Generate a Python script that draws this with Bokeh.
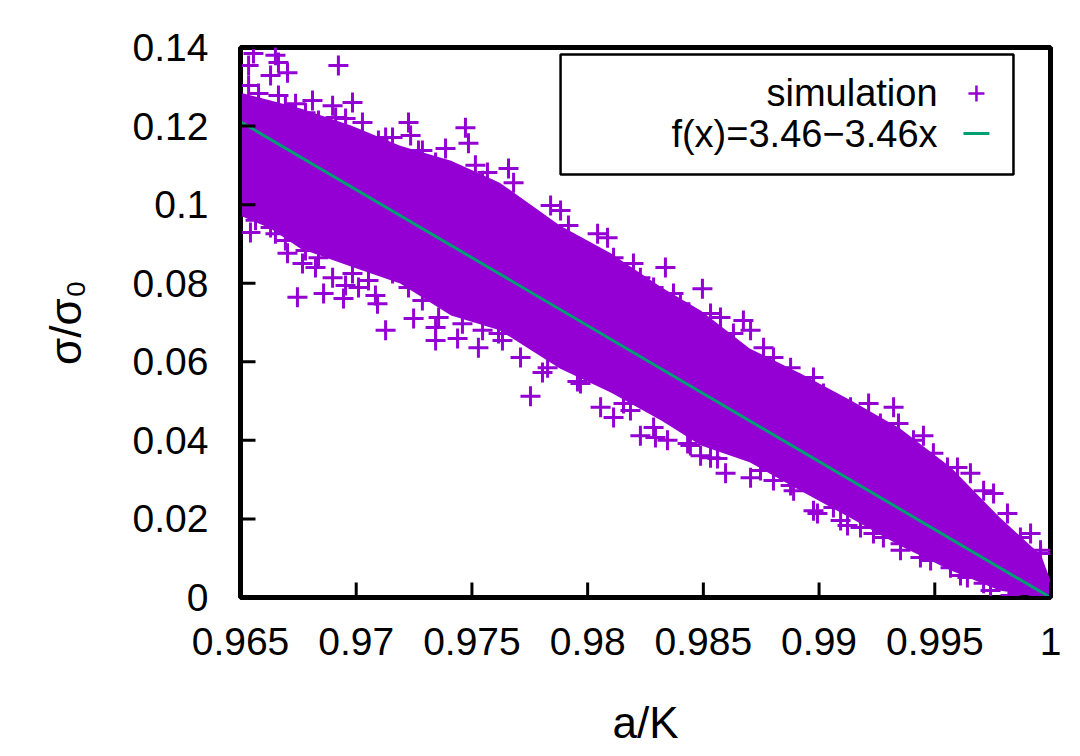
from bokeh.plotting import figure
from bokeh.models import Range1d, FixedTicker
from bokeh.core.properties import value
from bokeh.embed import file_html
from bokeh.resources import INLINE

# ---- data ----
x_ticks = [0.965, 0.97, 0.975, 0.98, 0.985, 0.99, 0.995, 1.0]
x_tick_labels = ["0.965", "0.97", "0.975", "0.98", "0.985", "0.99", "0.995", "1"]
y_ticks = [0.0, 0.02, 0.04, 0.06, 0.08, 0.10, 0.12, 0.14]
y_tick_labels = ["0", "0.02", "0.04", "0.06", "0.08", "0.1", "0.12", "0.14"]

# dense core of the simulation cloud (upper / lower envelope)
band_x = [0.965, 0.9663, 0.9676, 0.9698, 0.9719, 0.9741, 0.9762, 0.9788, 0.9810, 0.9832,
          0.9849, 0.9870, 0.9892, 0.9914, 0.9935, 0.9957, 0.9978, 0.9996, 1.0]
band_upper = [0.1285, 0.1265, 0.1245, 0.1201, 0.1150, 0.1112, 0.1056, 0.0947, 0.0876, 0.0789,
              0.0730, 0.0634, 0.0570, 0.0501, 0.0430, 0.0331, 0.0204, 0.0107, 0.0043]
band_lower = [0.0972, 0.0939, 0.0888, 0.0842, 0.0799, 0.0718, 0.0680, 0.0583, 0.0522, 0.0450,
              0.0387, 0.0344, 0.0272, 0.0201, 0.0132, 0.0069, 0.0018, 0.0, 0.0]

# individual simulation points on / outside the edge of the dense core
sim_x = [0.96556, 0.96651, 0.96664, 0.96535, 0.96630, 0.96703, 0.96923, 0.96535, 0.96578, 0.96664,
         0.96811, 0.96984, 0.96898, 0.96738, 0.97226, 0.97472, 0.97485, 0.97235, 0.97027, 0.96954,
         0.97127, 0.97286, 0.97386, 0.97515, 0.97567, 0.97658, 0.97680, 0.97840, 0.97883, 0.97917,
         0.98043, 0.98086, 0.98198, 0.98336, 0.98496, 0.98371, 0.98673, 0.98704, 0.98531, 0.98877,
         0.98976, 0.99214, 0.99322, 0.99343, 0.99451, 0.99555, 0.99654, 0.99711, 0.99870, 0.99957,
         0.96543, 0.96630, 0.96694, 0.96703, 0.96768, 0.96837, 0.96898, 0.96954, 0.97010, 0.96746,
         0.96859, 0.96945, 0.97083, 0.97092, 0.97127, 0.97248, 0.97343, 0.97343, 0.97438, 0.97528,
         0.97632, 0.97753, 0.97805, 0.97956, 0.98056, 0.98112, 0.98155, 0.98293, 0.98596, 0.98561,
         0.98993, 0.99123, 0.99235, 0.99278, 0.98747, 0.98877, 0.99093, 0.99352, 0.99482, 0.99611,
         0.99741, 0.99827, 0.99914, 0.99978, 0.98228, 0.98444, 0.98488,
         0.96578, 0.96694, 0.96781, 0.96837, 0.96911, 0.97096, 0.97157, 0.97269, 0.97343, 0.97416,
         0.97546, 0.97589,
         0.96565, 0.96651, 0.96781, 0.96824, 0.96984, 0.97053, 0.97157, 0.97226, 0.97286, 0.97356,
         0.97459, 0.97546, 0.97615,
         0.97624, 0.97753, 0.97827, 0.97969, 0.98112, 0.98228, 0.98285, 0.98401, 0.98574, 0.98630,
         0.98760,
         0.97710, 0.97827, 0.97969, 0.98185, 0.98285,
         0.98345, 0.98432, 0.98531, 0.98704, 0.98803, 0.98890, 0.98976, 0.99062, 0.99179, 0.99352,
         0.99438, 0.99568, 0.99641, 0.99711, 0.99857,
         0.98803, 0.99019, 0.99136, 0.99265, 0.99408, 0.99494, 0.99598, 0.99754, 0.99814, 0.99914,
         0.99957]
sim_y = [0.1385, 0.1380, 0.1362, 0.1354, 0.1329, 0.1336, 0.1354, 0.1303, 0.1283, 0.1278,
         0.1265, 0.1260, 0.1252, 0.1257, 0.1209, 0.1196, 0.1156, 0.1176, 0.1209, 0.1219,
         0.1171, 0.1138, 0.1143, 0.1100, 0.1082, 0.1092, 0.1056, 0.0998, 0.0985, 0.0947,
         0.0926, 0.0916, 0.0850, 0.0840, 0.0786, 0.0774, 0.0705, 0.0680, 0.0723, 0.0585,
         0.0560, 0.0494, 0.0484, 0.0443, 0.0412, 0.0331, 0.0316, 0.0272, 0.0153, 0.0120,
         0.0929, 0.0942, 0.0909, 0.0876, 0.0850, 0.0865, 0.0814, 0.0794, 0.0789, 0.0764,
         0.0774, 0.0761, 0.0769, 0.0748, 0.0680, 0.0710, 0.0687, 0.0654, 0.0659, 0.0636,
         0.0654, 0.0512, 0.0573, 0.0550, 0.0484, 0.0458, 0.0494, 0.0407, 0.0316, 0.0354,
         0.0214, 0.0183, 0.0163, 0.0153, 0.0323, 0.0285, 0.0196, 0.0120, 0.0094, 0.0056,
         0.0018, 0.0005, 0.0, 0.0, 0.0412, 0.0387, 0.0361,
         0.1257, 0.1252, 0.1234, 0.1214, 0.1222, 0.1163, 0.1171, 0.1138, 0.1107, 0.1082,
         0.1061, 0.1031,
         0.0960, 0.0926, 0.0883, 0.0840, 0.0825, 0.0807, 0.0825, 0.0789, 0.0756, 0.0713,
         0.0697, 0.0680, 0.0672,
         0.0985, 0.0960, 0.0934, 0.0891, 0.0865, 0.0814, 0.0789, 0.0748, 0.0713, 0.0672,
         0.0636,
         0.0611, 0.0585, 0.0545, 0.0476, 0.0433,
         0.0400, 0.0392, 0.0356, 0.0305, 0.0298, 0.0272, 0.0221, 0.0229, 0.0178, 0.0137,
         0.0102, 0.0076, 0.0051, 0.0036, 0.0010,
         0.0611, 0.0519, 0.0484, 0.0443, 0.0400, 0.0367, 0.0331, 0.0265, 0.0214, 0.0163,
         0.0112]

# fitted line f(x) = 3.46 - 3.46x at the two ends of the x range
fit_x = [0.965, 1.0]
fit_y = [0.1211, 0.0]

sim_label = "simulation"
fit_label = "f(x)=3.46\u22123.46x"

PURPLE = "#9400D3"
GREEN = "#009E73"
FONT = "Liberation Sans"

X0, X1, Y0, Y1 = 0.965, 1.0, 0.0, 0.14
FRAME_W, FRAME_H = 810, 550
p = figure(width=1076, height=752, output_backend="svg", toolbar_location=None,
           x_range=Range1d(X0, X1), y_range=Range1d(Y0, Y1),
           min_border_left=240, min_border_right=26, min_border_top=47, min_border_bottom=155)
p.xgrid.visible = False
p.ygrid.visible = False
p.outline_line_color = "black"
p.outline_line_width = 5

# cloud
p.varea(x=band_x, y1=band_lower, y2=band_upper, fill_color=PURPLE)
p.scatter(sim_x, sim_y, marker="cross", size=20, line_color=PURPLE, line_width=3)

# fit
p.line(fit_x, fit_y, line_color=GREEN, line_width=3)

# legend (gnuplot style: text right-aligned, sample to the right)
p.quad(left=[0.97883], right=[0.99840], top=[0.1382], bottom=[0.1077],
       fill_color="white", line_color="black", line_width=2.5)
p.text(x=[0.99512, 0.99512], y=[0.1283, 0.1181], text=[sim_label, fit_label],
       text_align="right", text_baseline="middle", text_font=value(FONT),
       text_font_size="38px", text_color="black")
p.scatter([0.99680], [0.1283], marker="cross", size=16, line_color=PURPLE, line_width=2.5)
p.line([0.99624, 0.99736], [0.1181, 0.1181], line_color=GREEN, line_width=3)

# inward tick marks as thin filled bars built from the tick arrays (bottom and left only)
px_x = (X1 - X0) / FRAME_W   # data units per pixel, x
px_y = (Y1 - Y0) / FRAME_H   # data units per pixel, y
p.quad(left=[t - 1.5 * px_x for t in x_ticks], right=[t + 1.5 * px_x for t in x_ticks],
       bottom=[Y0] * len(x_ticks), top=[Y0 + 15 * px_y] * len(x_ticks),
       fill_color="black", line_color=None)
p.quad(left=[X0] * len(y_ticks), right=[X0 + 15 * px_x] * len(y_ticks),
       bottom=[t - 1.5 * px_y for t in y_ticks], top=[t + 1.5 * px_y for t in y_ticks],
       fill_color="black", line_color=None)

# axes
for ax in (p.xaxis[0], p.yaxis[0]):
    ax.axis_line_color = "black"
    ax.axis_line_width = 3
    ax.major_tick_in = 0
    ax.major_tick_out = 0
    ax.major_tick_line_color = None
    ax.minor_tick_line_color = None
    ax.major_label_text_font = FONT
    ax.major_label_text_font_size = "39px"
    ax.major_label_text_color = "black"
    ax.axis_label_text_font = FONT
    ax.axis_label_text_font_size = "44px"
    ax.axis_label_text_font_style = "normal"
    ax.axis_label_text_color = "black"

p.xaxis[0].ticker = FixedTicker(ticks=x_ticks)
p.xaxis[0].major_label_overrides = dict(zip(x_ticks, x_tick_labels))
p.xaxis[0].major_label_standoff = 30
p.xaxis[0].axis_label = "a/K"
p.xaxis[0].axis_label_standoff = 40

p.yaxis[0].ticker = FixedTicker(ticks=y_ticks)
p.yaxis[0].major_label_overrides = dict(zip(y_ticks, y_tick_labels))
p.yaxis[0].major_label_standoff = 32
p.yaxis[0].axis_label = "\u03c3/\u03c3\u2080"
p.yaxis[0].axis_label_standoff = 40

open("out.html", "w").write(file_html(p, INLINE))
